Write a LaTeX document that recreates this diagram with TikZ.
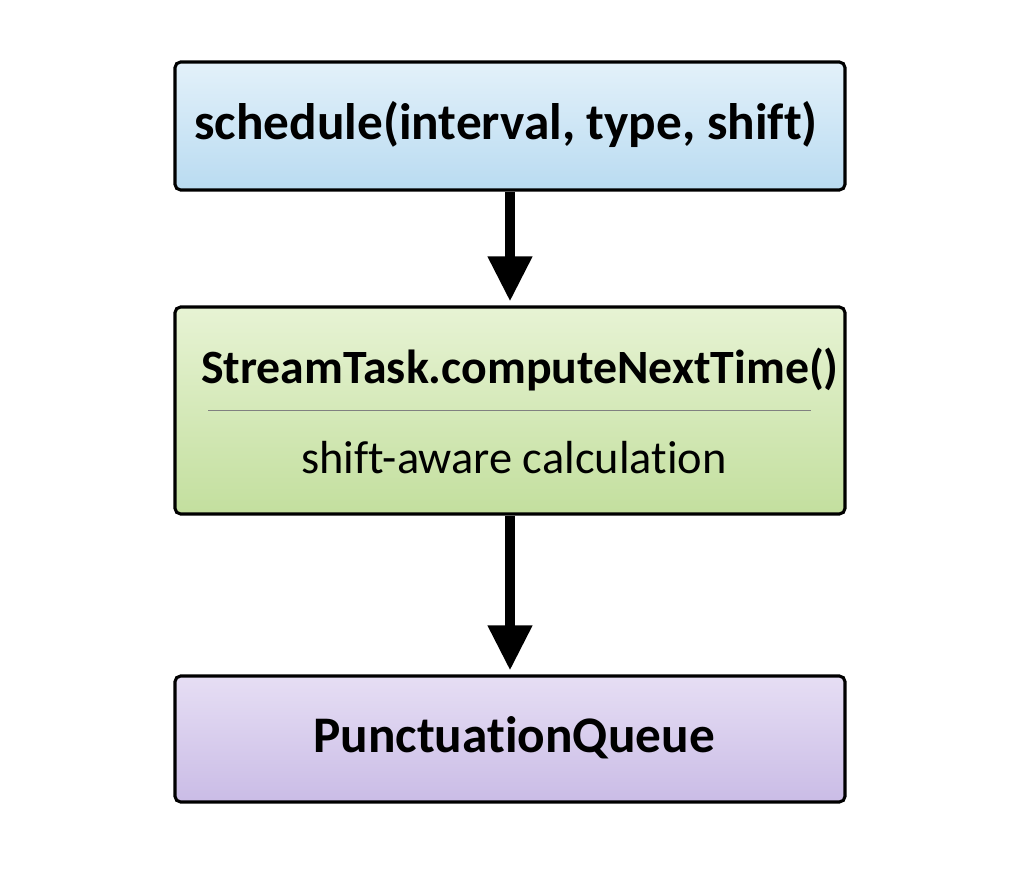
\documentclass[tikz,border=0pt]{standalone}
\usepackage{fontspec}
\setmainfont{Carlito}[Ligatures=NoCommon]
\usepackage{tikz}
\usetikzlibrary{shapes,arrows,arrows.meta,backgrounds,positioning,fit}

\definecolor{CallTop}{HTML}{E3F1FA}
\definecolor{CallBot}{HTML}{B9DBF1}
\definecolor{TaskTop}{HTML}{E7F3D4}
\definecolor{TaskBot}{HTML}{C3DF9E}
\definecolor{QueueTop}{HTML}{E6DEF4}
\definecolor{QueueBot}{HTML}{CABCE6}

\begin{document}
\begin{tikzpicture}
	\tikzstyle{Box}		= [draw, line width=2.2pt, rounded corners=4pt, minimum width=16.75cm, inner sep=0pt]
	\tikzstyle{Call}	= [minimum height=3.2cm, top color=CallTop, bottom color=CallBot]
	\tikzstyle{Task}	= [minimum height=5.175cm, top color=TaskTop, bottom color=TaskBot]
	\tikzstyle{Queue}	= [minimum height=3.15cm, top color=QueueTop, bottom color=QueueBot]
	\tikzstyle{Label}	= [font=\fontsize{36.5}{42}\selectfont\bfseries]
	\tikzstyle{Title}	= [font=\fontsize{34}{40}\selectfont\bfseries]
	\tikzstyle{Sub}		= [font=\fontsize{33}{40}\selectfont]
	\tikzstyle{Rule}	= [line width=0.6pt, gray]
	\tikzstyle{Flow}	= [line width=7pt, -{Triangle[width=30pt,length=32pt]}, shorten >=0.1cm]

	\useasboundingbox (0, 0) rectangle (25.6, -21.825);

	\node (sched) at (12.75, -3.15) [Box][Call] {};
	\node (task) at (12.75, -10.2625) [Box][Task] {};
	\node (queue) at (12.75, -18.475) [Box][Queue] {};

	\node (schedtxt) at (12.65, -3.1) [Label] {schedule(interval, type, shift)};
	\node (tasktxt) at (13.0, -9.25) [Title] {StreamTask.computeNextTime()};
	\node (shifttxt) at (12.85, -11.45) [Sub] {shift-aware calculation};
	\node (queuetxt) at (12.85, -18.45) [Label] {PunctuationQueue};

	\coordinate (ruleW) at (5.2, -10.25);
	\coordinate (ruleE) at (20.275, -10.25);
	\draw [-] (ruleW) to (ruleE) [Rule];

	\draw (sched) to (task) [Flow];
	\draw (task) to (queue) [Flow];
\end{tikzpicture}
\end{document}
